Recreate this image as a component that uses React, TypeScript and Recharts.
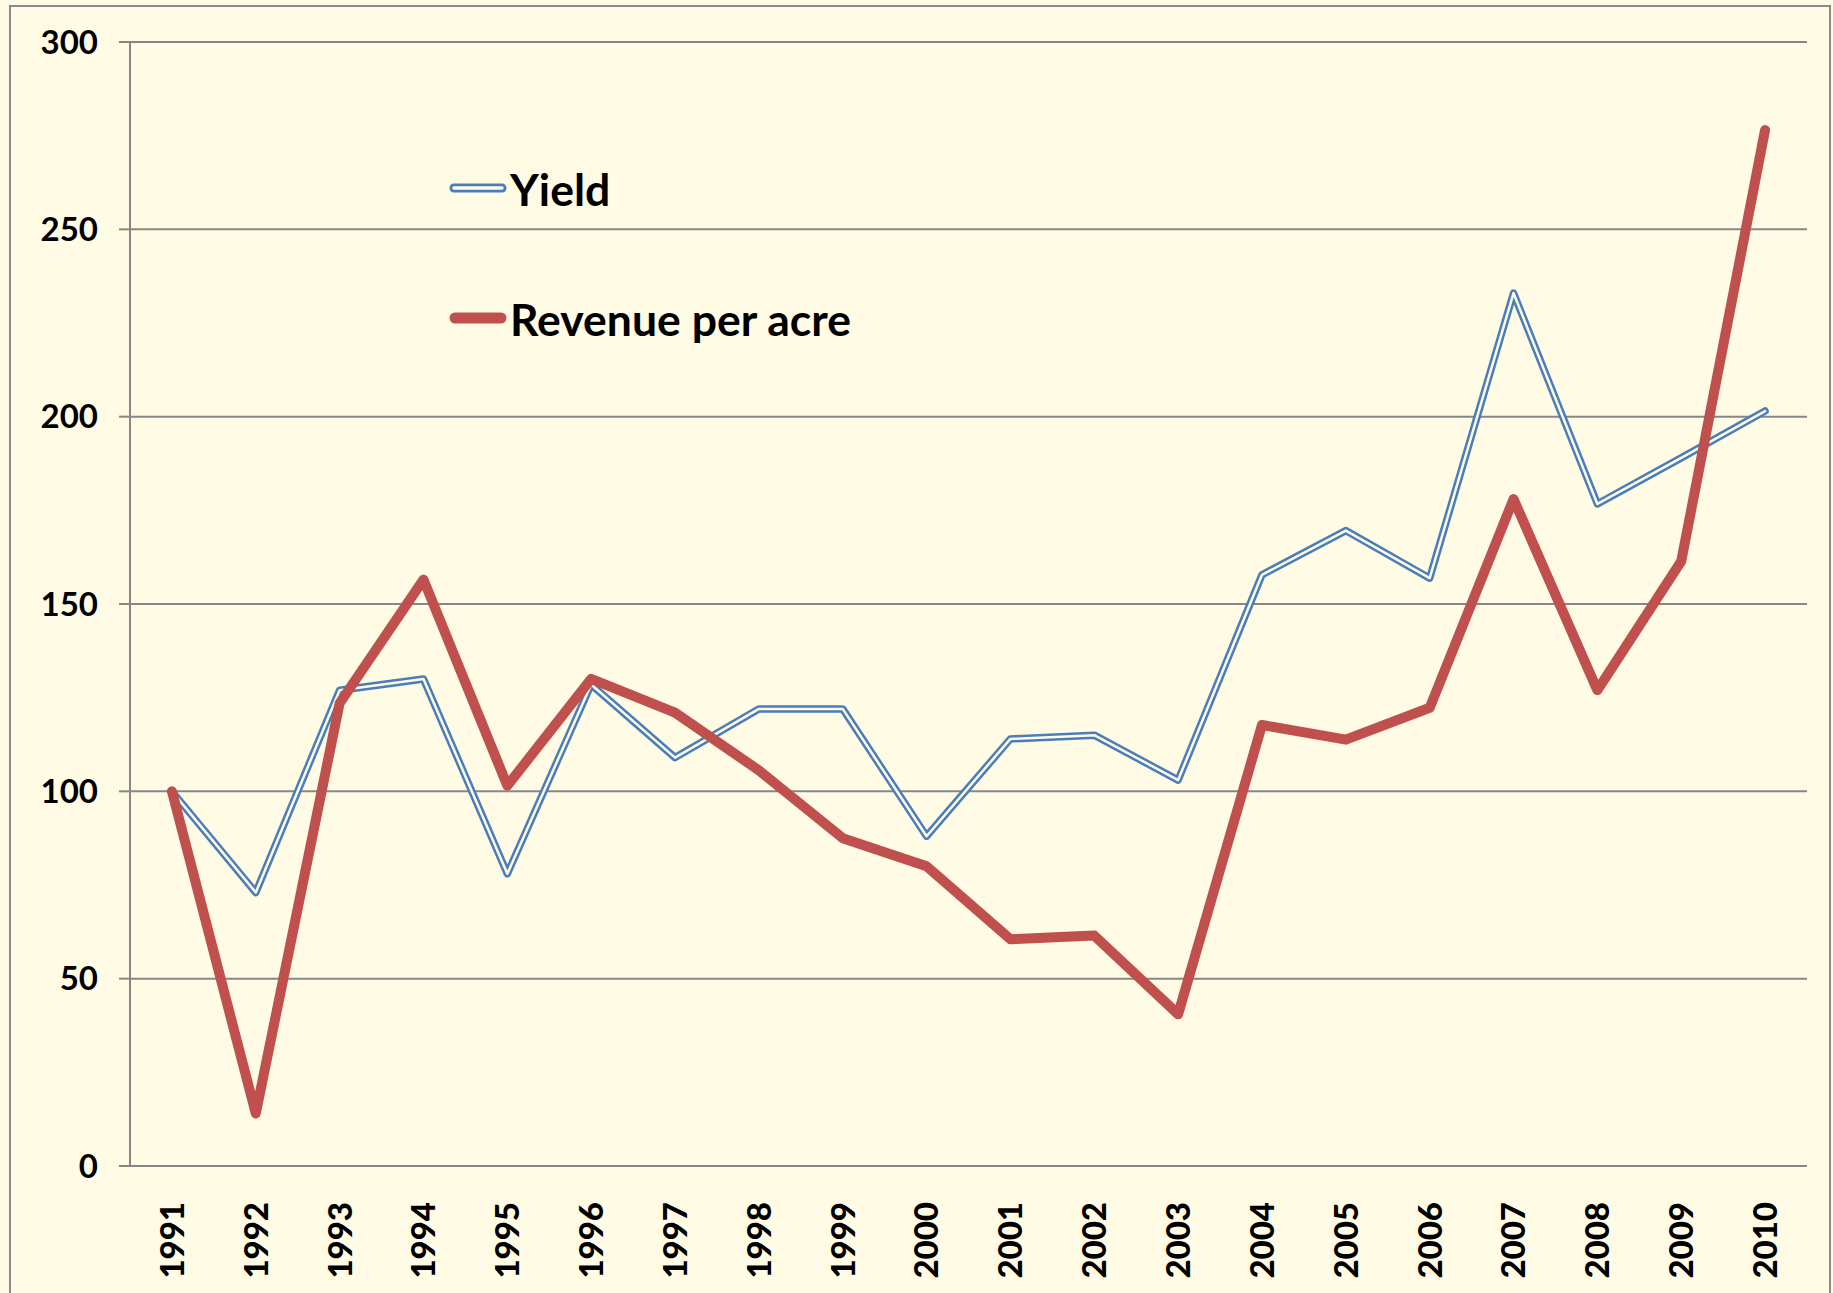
import { LineChart, Line, XAxis, YAxis, CartesianGrid, Legend } from 'recharts';

// index values, 1991 = 100
const years = [
  '1991', '1992', '1993', '1994', '1995', '1996', '1997', '1998', '1999', '2000',
  '2001', '2002', '2003', '2004', '2005', '2006', '2007', '2008', '2009', '2010',
];
const yieldIndex = [100, 73, 127, 130, 78, 128.5, 109, 122, 122, 88, 114, 115, 103, 157.8, 169.6, 156.9, 233, 176.7, 189, 201.5];
const revenueIndex = [100, 14, 123.5, 156.5, 101.5, 130, 121, 105.6, 87.5, 80, 60.5, 61.5, 40.5, 117.7, 113.8, 122.3, 178, 127, 161.4, 276.5];
const yTicks = [0, 50, 100, 150, 200, 250, 300];
const boundaryTicks = [0, 1, 2, 3, 4, 5, 6, 7, 8, 9, 10, 11, 12, 13, 14, 15, 16, 17, 18, 19, 20];

// each year sits in the middle of its slot, like excel's category axis
const data = years.map((year, i) => ({
  year,
  slot: i + 0.5,
  yield: yieldIndex[i],
  revenue: revenueIndex[i],
}));
const slotTicks = data.map((d) => d.slot);

const BG = '#FFFBE5';
const GRID = '#878787';
const BLUE = '#4A7EBB';
const RED = '#C0504D';
const FONT = 'Lato, "Open Sans", sans-serif';

const YearTick = ({ x, y, payload }: any) => (
  <text
    x={x}
    y={y}
    transform={`rotate(-90, ${x}, ${y})`}
    textAnchor="end"
    dy="0.36em"
    fill="#000"
    fontSize={33}
    fontWeight={900}
    fontFamily={FONT}
  >
    {years[Math.floor(payload.value)]}
  </text>
);

const LegendBox = () => {
  const row = { display: 'flex', alignItems: 'center', height: 130 } as const;
  const label = { fontFamily: FONT, fontWeight: 700, fontSize: 44.5, color: '#000', marginLeft: 3 } as const;
  return (
    <div>
      <div style={row}>
        <svg width={58} height={14}>
          <line x1={5} y1={7} x2={53} y2={7} stroke={BLUE} strokeWidth={9} strokeLinecap="round" />
          <line x1={5} y1={7} x2={53} y2={7} stroke={BG} strokeWidth={3.5} strokeLinecap="round" />
        </svg>
        <span style={label}>Yield</span>
      </div>
      <div style={row}>
        <svg width={58} height={14}>
          <line x1={6} y1={7} x2={52} y2={7} stroke={RED} strokeWidth={11} strokeLinecap="round" />
        </svg>
        <span style={label}>Revenue per acre</span>
      </div>
    </div>
  );
};

export default function App() {
  return (
    <div style={{ position: 'absolute', left: 0, top: 0, width: 1833, height: 1293, background: BG, overflow: 'hidden' }}>
      <div
        style={{
          position: 'absolute',
          left: 9,
          top: 5,
          width: 1818,
          height: 1400,
          border: '2px solid #8c8c8c',
        }}
      />
      <div style={{ position: 'absolute', left: 0, top: 0 }}>
        <LineChart width={1833} height={1293} data={data} margin={{ top: 42, right: 26, left: 0, bottom: 17 }}>
          <CartesianGrid xAxisId="grid" vertical={false} stroke={GRID} strokeWidth={2} />
          <XAxis
            xAxisId="grid"
            type="number"
            dataKey="slot"
            domain={[0, 20]}
            allowDataOverflow
            ticks={boundaryTicks}
            interval={0}
            height={0}
            tick={false}
            tickSize={11}
            axisLine={{ stroke: GRID, strokeWidth: 3 }}
            tickLine={{ stroke: GRID, strokeWidth: 2 }}
          />
          <XAxis
            xAxisId="labels"
            type="number"
            dataKey="slot"
            domain={[0, 20]}
            allowDataOverflow
            ticks={slotTicks}
            height={110}
            interval={0}
            axisLine={false}
            tickLine={false}
            tickSize={0}
            tickMargin={36}
            tick={<YearTick />}
          />
          <YAxis
            width={130}
            domain={[0, 300]}
            ticks={yTicks}
            interval={0}
            tickSize={11}
            tickMargin={21}
            axisLine={{ stroke: GRID, strokeWidth: 2 }}
            tickLine={{ stroke: GRID, strokeWidth: 2 }}
            tick={{ fill: '#000', fontSize: 33, fontWeight: 700, fontFamily: FONT }}
          />
          <Legend
            layout="vertical"
            align="center"
            verticalAlign="middle"
            content={<LegendBox />}
            wrapperStyle={{ left: 449, top: 123, width: 500 }}
          />
          <Line
            xAxisId="grid"
            dataKey="yield"
            name="Yield"
            stroke={BLUE}
            strokeWidth={7.5}
            strokeLinejoin="round"
            strokeLinecap="round"
            dot={false}
            activeDot={false}
            isAnimationActive={false}
          />
          <Line
            xAxisId="grid"
            dataKey="yield"
            legendType="none"
            stroke={BG}
            strokeWidth={2.5}
            strokeLinejoin="round"
            strokeLinecap="round"
            dot={false}
            activeDot={false}
            isAnimationActive={false}
          />
          <Line
            xAxisId="grid"
            dataKey="revenue"
            name="Revenue per acre"
            stroke={RED}
            strokeWidth={10}
            strokeLinejoin="round"
            strokeLinecap="round"
            dot={false}
            activeDot={false}
            isAnimationActive={false}
          />
        </LineChart>
      </div>
    </div>
  );
}
